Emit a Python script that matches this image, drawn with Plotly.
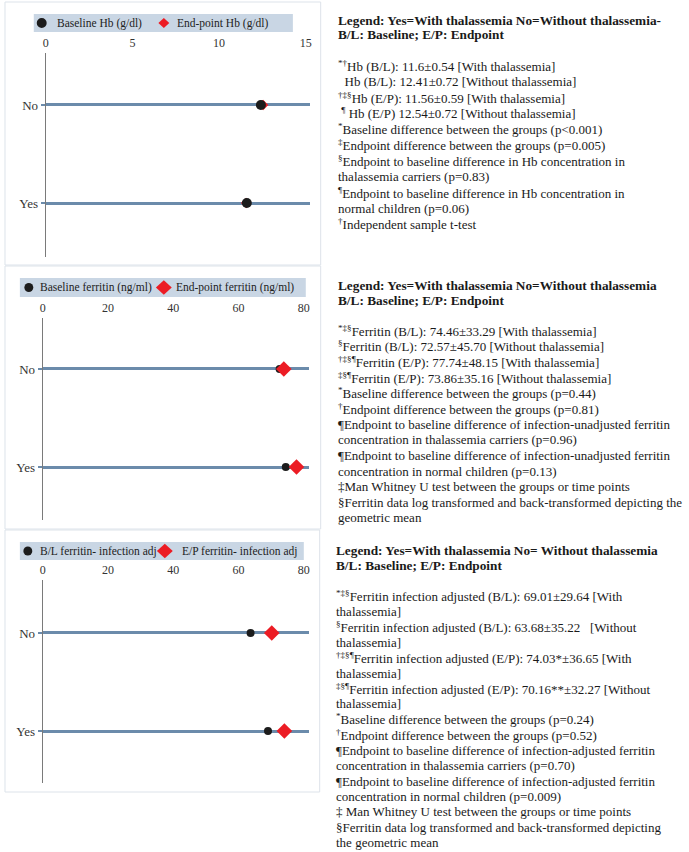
import plotly.graph_objects as go

# ---------------- data ----------------
groups = ["Yes", "No"]
hb_baseline = [11.6, 12.41]
hb_endpoint = [11.56, 12.54]
fer_baseline = [74.46, 72.57]
fer_endpoint = [77.74, 73.86]
adj_baseline = [69.01, 63.68]
adj_endpoint = [74.03, 70.16]

hb_ticks = [0, 5, 10, 15]
fer_ticks = [0, 20, 40, 60, 80]

legend_labels = [
    ("Baseline Hb (g/dl)", "End-point Hb (g/dl)"),
    ("Baseline ferritin (ng/ml)", "End-point ferritin (ng/ml)"),
    ("B/L ferritin- infection adj", "E/P ferritin- infection adj"),
]

header1 = ["Legend: Yes=With thalassemia No=Without thalassemia-", "B/L: Baseline; E/P: Endpoint"]
body1 = [
    "<sup>*†</sup>Hb (B/L): 11.6±0.54 [With thalassemia]",
    "  Hb (B/L): 12.41±0.72 [Without thalassemia]",
    "<sup>†‡§</sup>Hb (E/P): 11.56±0.59 [With thalassemia]",
    " <sup>¶</sup> Hb (E/P) 12.54±0.72 [Without thalassemia]",
    "<sup>*</sup>Baseline difference between the groups (p<0.001)",
    "<sup>‡</sup>Endpoint difference between the groups (p=0.005)",
    "<sup>§</sup>Endpoint to baseline difference in Hb concentration in",
    "thalassemia carriers (p=0.83)",
    "<sup>¶</sup>Endpoint to baseline difference in Hb concentration in",
    "normal children (p=0.06)",
    "<sup>†</sup>Independent sample t-test",
]
header2 = ["Legend: Yes=With thalassemia No=Without thalassemia", "B/L: Baseline; E/P: Endpoint"]
body2 = [
    "<sup>*‡§</sup>Ferritin (B/L): 74.46±33.29 [With thalassemia]",
    "<sup>§</sup>Ferritin (B/L): 72.57±45.70 [Without thalassemia]",
    "<sup>†‡§¶</sup>Ferritin (E/P): 77.74±48.15 [With thalassemia]",
    "<sup>‡§¶</sup>Ferritin (E/P): 73.86±35.16 [Without thalassemia]",
    "<sup>*</sup>Baseline difference between the groups (p=0.44)",
    "<sup>†</sup>Endpoint difference between the groups (p=0.81)",
    "¶Endpoint to baseline difference of infection-unadjusted ferritin",
    "concentration in thalassemia carriers (p=0.96)",
    "¶Endpoint to baseline difference of infection-unadjusted ferritin",
    "concentration in normal children (p=0.13)",
    "‡Man Whitney U test between the groups or time points",
    "§Ferritin data log transformed and back-transformed depicting the",
    "geometric mean",
]
header3 = ["Legend: Yes=With thalassemia No= Without thalassemia", "B/L: Baseline; E/P: Endpoint"]
body3 = [
    "<sup>*‡§</sup>Ferritin infection adjusted (B/L): 69.01±29.64 [With",
    "thalassemia]",
    "<sup>§</sup>Ferritin infection adjusted (B/L): 63.68±35.22   [Without",
    "thalassemia]",
    "<sup>†‡§¶</sup>Ferritin infection adjusted (E/P): 74.03*±36.65 [With",
    "thalassemia]",
    "<sup>‡§¶</sup>Ferritin infection adjusted (E/P): 70.16**±32.27 [Without",
    "thalassemia]",
    "<sup>*</sup>Baseline difference between the groups (p=0.24)",
    "<sup>†</sup>Endpoint difference between the groups (p=0.52)",
    "¶Endpoint to baseline difference of infection-adjusted ferritin",
    "concentration in thalassemia carriers (p=0.70)",
    "¶Endpoint to baseline difference of infection-adjusted ferritin",
    "concentration in normal children (p=0.009)",
    "‡ Man Whitney U test between the groups or time points",
    "§Ferritin data log transformed and back-transformed depicting",
    "the geometric mean",
]

# ---------------- layout helpers ----------------
W, H = 689, 852
FONT = "Liberation Serif, Times New Roman, serif"
LINE_C = "#6b8bab"
BLACK = "#1c1c1c"
RED = "#ec1c24"


def px(x):
    return x / W


def py(y):
    return 1 - y / H


fig = go.Figure()

panels = [
    dict(base=hb_baseline, end=hb_endpoint, ticks=hb_ticks, xr=[0, 15.23],
         xd=(43, 309), yd=(53, 257), yr=[-0.55, 1.53], csize=10, dsize=8, red_top=False),
    dict(base=fer_baseline, end=fer_endpoint, ticks=fer_ticks, xr=[0, 81.5],
         xd=(40, 308), yd=(318, 520), yr=[-0.54, 1.52], csize=8, dsize=12, red_top=True),
    dict(base=adj_baseline, end=adj_endpoint, ticks=fer_ticks, xr=[0, 81.5],
         xd=(40, 308), yd=(580, 783), yr=[-0.53, 1.54], csize=8, dsize=12, red_top=True),
]

layout_axes = {}
for i, p in enumerate(panels, start=1):
    sfx = "" if i == 1 else str(i)
    xa, ya = "x" + sfx, "y" + sfx
    tr_base = go.Scatter(x=p["base"], y=groups, mode="markers", xaxis=xa, yaxis=ya,
                         marker=dict(symbol="circle", size=p["csize"], color=BLACK),
                         showlegend=False, cliponaxis=False)
    tr_end = go.Scatter(x=p["end"], y=groups, mode="markers", xaxis=xa, yaxis=ya,
                        marker=dict(symbol="diamond", size=p["dsize"], color=RED),
                        showlegend=False, cliponaxis=False)
    if p["red_top"]:
        fig.add_trace(tr_base)
        fig.add_trace(tr_end)
    else:
        fig.add_trace(tr_end)
        fig.add_trace(tr_base)
    layout_axes["xaxis" + sfx] = dict(
        domain=[px(p["xd"][0]), px(p["xd"][1])], range=p["xr"], anchor=ya, side="top",
        tickvals=p["ticks"], showgrid=False, zeroline=False, showline=False, ticks="",
        ticklabelstandoff=3,
        tickfont=dict(family=FONT, size=12, color="#333333"), fixedrange=True,
    )
    layout_axes["yaxis" + sfx] = dict(
        domain=[py(p["yd"][1]), py(p["yd"][0])], range=p["yr"], anchor=xa,
        type="category", categoryorder="array", categoryarray=groups,
        showgrid=True, gridcolor=LINE_C, gridwidth=3, zeroline=False,
        showline=True, linecolor="#7a7a7a", linewidth=1,
        ticks="outside", ticklen=4, tickwidth=2, tickcolor=LINE_C,
        tickfont=dict(family=FONT, size=13, color="#333333"), fixedrange=True,
    )

shapes = []
annotations = []

# panel frames
for (x0, y0, x1, y1) in [(2, 2, 320, 265), (2, 266, 320, 529), (2, 530, 319, 792)]:
    shapes.append(dict(type="rect", xref="paper", yref="paper",
                       x0=px(x0), x1=px(x1), y0=py(y1), y1=py(y0),
                       line=dict(color="#dde3ea", width=1), fillcolor="rgba(0,0,0,0)", layer="below"))

# legend boxes
legend_boxes = [
    dict(box=(31, 14, 292, 32), c=(39, 5), d=(162, 5.5), t1=52, t2=173),
    dict(box=(17, 278, 305, 297), c=(26, 4.5), d=(162, 8), t1=35, t2=172),
    dict(box=(17, 542, 303, 560), c=(25, 4.5), d=(163, 8), t1=35, t2=178),
]
for lb, (lab1, lab2) in zip(legend_boxes, legend_labels):
    x0, y0, x1, y1 = lb["box"]
    yc = (y0 + y1) / 2
    shapes.append(dict(type="rect", xref="paper", yref="paper",
                       x0=px(x0), x1=px(x1), y0=py(y1), y1=py(y0),
                       line=dict(width=0), fillcolor="#c9d6e4", layer="below"))
    cx, r = lb["c"]
    shapes.append(dict(type="circle", xref="paper", yref="paper",
                       x0=px(cx - r), x1=px(cx + r), y0=py(yc + r), y1=py(yc - r),
                       line=dict(width=0), fillcolor=BLACK))
    dx, h = lb["d"]
    path = "M {} {} L {} {} L {} {} L {} {} Z".format(
        px(dx - h), py(yc), px(dx), py(yc - h * 0.9), px(dx + h), py(yc), px(dx), py(yc + h * 0.9))
    shapes.append(dict(type="path", xref="paper", yref="paper", path=path,
                       line=dict(width=0), fillcolor=RED))
    for tx, lab in [(lb["t1"], lab1), (lb["t2"], lab2)]:
        annotations.append(dict(text=lab, x=px(tx), y=py(yc), xref="paper", yref="paper",
                                xanchor="left", yanchor="middle", showarrow=False,
                                font=dict(family=FONT, size=11.5, color="#222222")))

# right-side text blocks
blocks = [
    dict(x=335, hy=(20, 34.5), header=header1, y0=66, step=15.83, body=body1),
    dict(x=335, hy=(285, 300), header=header2, y0=330.7, step=15.6, body=body2),
    dict(x=333, hy=(550, 565), header=header3, y0=596, step=15.42, body=body3),
]
for b in blocks:
    for hy, txt in zip(b["hy"], b["header"]):
        annotations.append(dict(text="<b>" + txt + "</b>", x=px(b["x"]), y=py(hy),
                                xref="paper", yref="paper", xanchor="left", yanchor="middle",
                                showarrow=False, font=dict(family=FONT, size=13.3, color="#1a1a1a")))
    for k, txt in enumerate(b["body"]):
        annotations.append(dict(text=txt.replace("  ", "\u00a0 "), x=px(b["x"]), y=py(b["y0"] + k * b["step"]),
                                xref="paper", yref="paper", xanchor="left", yanchor="middle",
                                showarrow=False, font=dict(family=FONT, size=13, color="#1a1a1a")))

fig.update_layout(
    width=W, height=H, autosize=False,
    margin=dict(l=0, r=0, t=0, b=0),
    paper_bgcolor="white", plot_bgcolor="white",
    showlegend=False,
    shapes=shapes, annotations=annotations,
    **layout_axes,
)

fig.write_html("out.html", config={"displayModeBar": False},
               post_script="document.body.style.margin='0';")
